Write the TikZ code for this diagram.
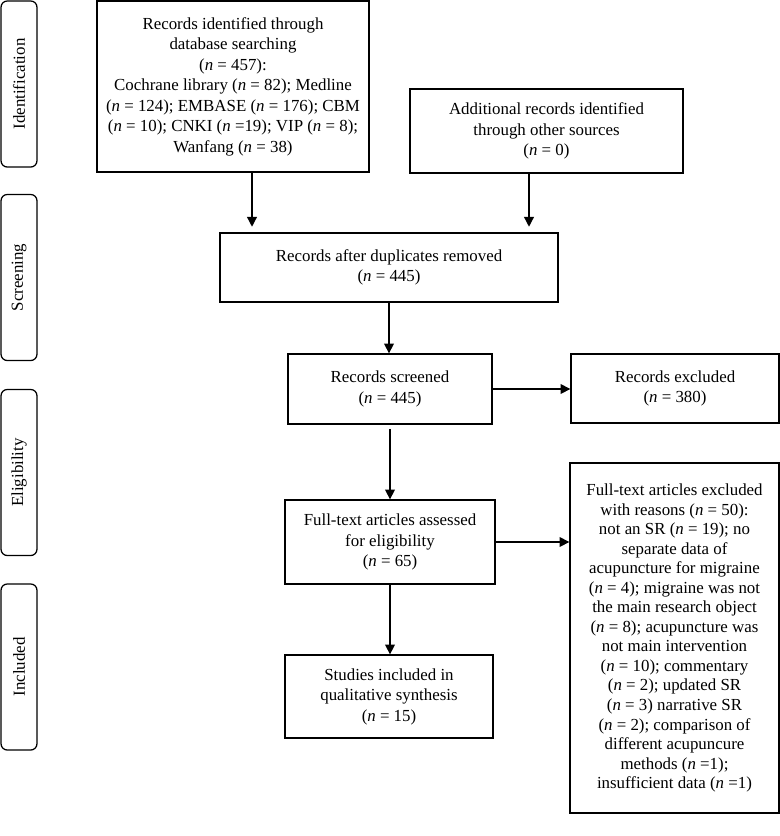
\documentclass[tikz,border=0pt]{standalone}
\usepackage{fontspec}
\setmainfont{Liberation Serif}
\usetikzlibrary{calc,arrows.meta}

\begin{document}
\begin{tikzpicture}[x=0.025cm, y=-0.025cm,
    font=\fontsize{12}{14.6}\selectfont,
    box/.style={draw, rectangle, line width=0.9pt, align=center, inner sep=2pt},
    stage/.style={draw, rectangle, rounded corners=4.5pt, line width=0.9pt, rotate=90,
      minimum width=4.15cm, minimum height=0.9cm},
    arr/.style={-{Triangle[width=7pt,length=7pt]}, line width=0.9pt}]
    \useasboundingbox (0,0) rectangle (780,836);
    \node[stage] (ident) at (19,84) {Identification};
    \node[stage] (screen) at (19,277.5) {Screening};
    \node[stage] (elig) at (19,472.5) {Eligibility};
    \node[stage] (incl) at (19,667) {Included};

    \node[box, minimum width=6.8cm, minimum height=4.275cm] (db) at (233,86.5)
      {Records identified through\\ database searching\\ (\textit{n} = 457):\\
       Cochrane library (\textit{n} = 82); Medline\\
       (\textit{n} = 124); EMBASE (\textit{n} = 176); CBM\\
       (\textit{n} = 10); CNKI (\textit{n} =19); VIP (\textit{n} = 8);\\
       Wanfang (\textit{n} = 38)};
    \node[box, minimum width=6.825cm, minimum height=2.1cm] (other) at (546.5,131)
      {Additional records identified\\ through other sources\\ (\textit{n} = 0)};
    \node[box, minimum width=8.45cm, minimum height=1.725cm] (dup) at (389,267.5)
      {Records after duplicates removed\\ (\textit{n} = 445)};
    \node[box, minimum width=5.1cm, minimum height=1.75cm] (scr) at (390,389)
      {Records screened\\ (\textit{n} = 445)};
    \node[box, minimum width=5.2cm, minimum height=1.725cm] (excl) at (675,388.5)
      {Records excluded\\ (\textit{n} = 380)};
    \node[box, minimum width=5.25cm, minimum height=2.1cm] (full) at (390,542)
      {Full-text articles assessed\\ for eligibility\\ (\textit{n} = 65)};
    \node[box, minimum width=5.225cm, minimum height=8.75cm,
      font=\fontsize{12}{13.9}\selectfont] (fullexcl) at (674.5,638)
      {Full-text articles excluded\\ with reasons (\textit{n} = 50):\\
       not an SR (\textit{n} = 19); no\\ separate data of\\
       acupuncture for migraine\\ (\textit{n} = 4); migraine was not\\
       the main research object\\ (\textit{n} = 8); acupuncture was\\
       not main intervention\\ (\textit{n} = 10); commentary\\
       (\textit{n} = 2); updated SR\\ (\textit{n} = 3) narrative SR\\
       (\textit{n} = 2); comparison of\\ different acupuncure\\
       methods (\textit{n} =1);\\ insufficient data (\textit{n} =1)};
    \node[box, minimum width=5.2cm, minimum height=2.075cm] (qual) at (389,696.5)
      {Studies included in\\ qualitative synthesis\\ (\textit{n} = 15)};

    \coordinate (dbout) at ($(db.south)+(19,0)$);
    \coordinate (otherout) at ($(other.south)+(-17.5,0)$);
    \draw[arr, shorten >=4pt] (dbout) -- (dbout |- dup.north);
    \draw[arr, shorten >=4pt] (otherout) -- (otherout |- dup.north);
    \draw[arr] (dup.south) -- (dup.south |- scr.north);
    \draw[arr] (scr.east) -- (scr.east -| excl.west);
    \draw[arr, shorten <=3pt] (scr.south) -- (full.north);
    \draw[arr] (full.east) -- (full.east -| fullexcl.west);
    \draw[arr] (full.south) -- (full.south |- qual.north);
\end{tikzpicture}
\end{document}
